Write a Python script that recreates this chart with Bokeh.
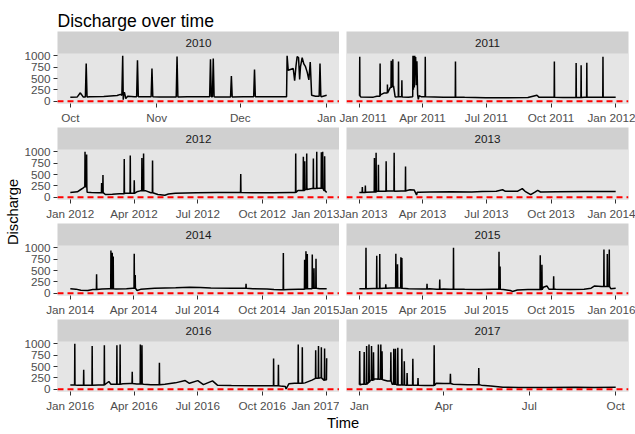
import numpy as np
import pandas as pd
from bokeh.plotting import figure
from bokeh.layouts import column, row
from bokeh.models import (BoxAnnotation, ColumnDataSource, DatetimeTickFormatter,
                          FixedTicker, Label, Range1d, Span)
from bokeh.embed import file_html
from bokeh.resources import INLINE

# Discharge readings, day of year (0 = 1 Jan) and value.
# base_* is the running level, peak_* are the short flood spikes on top of it.
base_day_2010 = [273, 275.5, 276.6, 277.6, 280, 285, 289.8, 291.0, 291.5, 292.0, 292.4, 292.9, 293.6,
                 296, 305, 315, 325, 335, 345, 350.6, 350.8, 351.2, 353.0, 353.5, 354.0, 354.4,
                 354.9, 355.3, 355.6, 356.2, 356.8, 357.4, 358.0, 358.6, 359.1, 359.6, 361.0, 363.1, 365]
base_q_2010 = [90, 95, 185, 95, 100, 105, 125, 150, 130, 35, 200, 60, 110,
               100, 95, 100, 95, 100, 100, 100, 1000, 680, 720, 450, 780, 980,
               960, 480, 760, 960, 820, 760, 640, 470, 860, 130, 110, 100, 130]
peak_day_2010 = [278.7, 291.8, 297.1, 302.3, 311.3, 323.3, 324.3, 330.8, 339.1, 362.6]
peak_q_2010 = [830, 1000, 900, 720, 985, 925, 940, 555, 700, 830]

base_day_2011 = [0, 2, 20, 25, 30, 35, 40, 44, 47, 48.7, 51, 55, 62, 70, 76, 76.4, 77.0, 77.7, 78.3,
                 78.9, 79.5, 80.2, 81.0, 82.0, 83.0, 84.0, 85.0, 88, 120, 150, 180, 210, 240,
                 252.9, 256, 290, 320, 350, 365]
base_q_2011 = [120, 95, 90, 110, 140, 180, 230, 300, 330, 340, 95, 100, 95, 90, 100, 1000, 250, 1000, 300,
               1000, 600, 970, 350, 880, 150, 40, 120, 100, 90, 85, 75, 75, 80,
               130, 85, 80, 85, 90, 90]
peak_day_2011 = [0.6, 29.6, 40.0, 45.4, 47.7, 55.8, 60.6, 93.9, 136.9, 277.7, 308.7, 315.8, 323.9, 346.9]
peak_q_2011 = [980, 830, 370, 890, 925, 875, 460, 980, 875, 875, 840, 790, 845, 980]

base_day_2012 = [0, 10, 15, 18, 20.5, 24, 30, 40, 50, 60, 70, 78, 90, 95, 100, 108, 115, 125, 135, 140,
                 150, 180, 210, 240, 260, 290, 315, 325, 335, 345, 355, 362, 366]
base_q_2012 = [105, 120, 170, 200, 230, 110, 105, 100, 60, 65, 75, 90, 85, 120, 140, 140, 100, 60, 45, 70,
               90, 100, 105, 105, 100, 100, 105, 150, 170, 190, 200, 150, 105]
peak_day_2012 = [21.0, 23.3, 44.7, 46.6, 77.0, 85.6, 91.3, 102.2, 104.6, 117.4, 243.3, 321.8, 332.7,
                 334.6, 337.5, 347.0, 351.8, 358.4, 360.3, 363.1]
peak_q_2012 = [1000, 940, 315, 490, 840, 920, 375, 865, 960, 810, 510, 960, 890,
               790, 960, 850, 1000, 990, 1000, 900]

base_day_2013 = [0, 10, 20, 25, 30, 40, 50, 60, 66, 68, 72, 78, 81.5, 82.5, 85, 100, 130, 160, 175, 195,
                 204, 208, 225, 232, 236, 244, 250, 254, 258, 280, 320, 365]
base_q_2013 = [105, 110, 115, 130, 130, 135, 130, 135, 140, 150, 165, 160, 50, 110, 110, 115, 120, 115, 125, 130,
               165, 130, 130, 190, 130, 55, 110, 150, 115, 120, 125, 125]
peak_day_2013 = [4.3, 8.6, 21.5, 23.9, 27.2, 38.2, 49.6, 65.8]
peak_q_2013 = [225, 255, 865, 980, 715, 790, 980, 675]

base_day_2014 = [0, 8, 15, 25, 32, 45, 55, 65, 80, 89, 95, 100, 120, 150, 170, 185, 200, 230, 260, 280,
                 290, 300, 310, 325, 335, 345, 355, 365]
base_q_2014 = [100, 90, 65, 60, 80, 95, 100, 95, 100, 110, 60, 85, 110, 120, 130, 125, 115, 110, 100, 95,
               80, 75, 80, 90, 100, 110, 100, 100]
peak_day_2014 = [37.4, 57.8, 59.7, 61.1, 91.0, 92.4, 250.2, 303.3, 333.6, 335.5, 337.4, 344.5, 346.9, 349.8]
peak_q_2014 = [420, 940, 890, 810, 870, 400, 210, 885, 735, 925, 865, 850, 550, 760]

base_day_2015 = [0, 20, 35, 45, 60, 70, 90, 100, 110, 120, 130, 150, 170, 190, 205, 215, 218, 225, 240, 250,
                 262, 267, 270, 280, 300, 320, 330, 335, 345, 358, 365]
base_q_2015 = [100, 105, 110, 115, 110, 100, 95, 100, 90, 95, 90, 85, 80, 85, 80, 60, 40, 70, 80, 80,
               130, 160, 90, 85, 80, 85, 110, 160, 150, 100, 110]
peak_day_2015 = [9.5, 24.8, 29.1, 37.7, 52.0, 54.4, 59.2, 60.6, 96.4, 114.5, 134.1, 198.9, 200.4,
                 257.6, 260.0, 276.7, 348.3, 353.1, 355.9]
peak_q_2015 = [1000, 825, 865, 195, 870, 640, 790, 775, 210, 300, 1000, 910, 590,
               835, 625, 375, 960, 865, 960]

base_day_2016 = [0, 10, 25, 40, 50, 55, 58, 75, 85, 95, 105, 115, 135, 150, 164, 170, 182, 190, 203, 210,
                 230, 260, 290, 300, 307, 308, 312, 320, 335, 345, 350, 357, 362, 365.7, 366]
base_q_2016 = [95, 85, 90, 95, 110, 170, 110, 120, 125, 115, 110, 100, 110, 140, 190, 130, 190, 100, 185, 90,
               80, 75, 75, 70, 60, 5, 120, 130, 140, 200, 240, 250, 200, 210, 680]
peak_day_2016 = [6.4, 19.1, 31.2, 48.6, 66.5, 71.1, 88.4, 100.0, 102.3, 127.2, 290.2, 297.1, 325.4,
                 331.2, 350.3, 354.3, 358.4, 363.0]
peak_q_2016 = [1000, 430, 950, 970, 970, 985, 385, 985, 965, 580, 675, 540, 985,
               925, 860, 950, 925, 895]

base_day_2017 = [0, 3, 8, 12, 16, 20, 25, 30, 35, 40, 50, 60, 70, 78, 82, 90, 100, 115, 130, 140,
                 153, 170, 200, 230, 250, 273]
base_q_2017 = [100, 110, 150, 200, 230, 220, 210, 180, 110, 95, 90, 85, 80, 80, 130, 125, 110, 100, 90, 70,
               45, 40, 40, 45, 40, 45]
peak_day_2017 = [0.4, 5.2, 7.8, 10.3, 13.0, 15.1, 20.3, 22.9, 24.2, 33.6, 36.7, 38.5, 41.0, 45.3, 47.9,
                 50.9, 57.0, 62.5, 79.7, 97.0, 127.2]
peak_q_2017 = [840, 820, 950, 985, 950, 815, 985, 985, 835, 815, 890, 890, 910, 890, 615,
               355, 670, 245, 965, 340, 465]

# x tick positions and label formats per facet
ticks = {
    2010: ["2010-10-01", "2010-11-01", "2010-12-01", "2011-01-01"],
    2011: ["2011-01-01", "2011-04-01", "2011-07-01", "2011-10-01", "2012-01-01"],
    2012: ["2012-01-01", "2012-04-01", "2012-07-01", "2012-10-01", "2013-01-01"],
    2013: ["2013-01-01", "2013-04-01", "2013-07-01", "2013-10-01", "2014-01-01"],
    2014: ["2014-01-01", "2014-04-01", "2014-07-01", "2014-10-01", "2015-01-01"],
    2015: ["2015-01-01", "2015-04-01", "2015-07-01", "2015-10-01", "2016-01-01"],
    2016: ["2016-01-01", "2016-04-01", "2016-07-01", "2016-10-01", "2017-01-01"],
    2017: ["2017-01-01", "2017-04-01", "2017-07-01", "2017-10-01"],
}
tick_fmt = {2010: "%b", 2017: "%b"}
y_ticks = [0, 250, 500, 750, 1000]

data = {
    2010: (base_day_2010, base_q_2010, peak_day_2010, peak_q_2010),
    2011: (base_day_2011, base_q_2011, peak_day_2011, peak_q_2011),
    2012: (base_day_2012, base_q_2012, peak_day_2012, peak_q_2012),
    2013: (base_day_2013, base_q_2013, peak_day_2013, peak_q_2013),
    2014: (base_day_2014, base_q_2014, peak_day_2014, peak_q_2014),
    2015: (base_day_2015, base_q_2015, peak_day_2015, peak_q_2015),
    2016: (base_day_2016, base_q_2016, peak_day_2016, peak_q_2016),
    2017: (base_day_2017, base_q_2017, peak_day_2017, peak_q_2017),
}

FONT = "Liberation Sans"
PANEL_W, PANEL_H, STRIP_H = 282, 50, 22
AXIS_GAP, LAST_AXIS = 24, 20
YLAB_W, LEFT_AXIS_W, COL_GAP, RIGHT_M = 21, 36, 7, 7
TITLE_H, XLAB_H = 31, 23
TOTAL_W = YLAB_W + LEFT_AXIS_W + PANEL_W + COL_GAP + PANEL_W + RIGHT_M
PANEL_BG, STRIP_BG = "#E5E5E5", "#D0D0D0"
SPIKE_HALF = 0.3  # days


def to_ms(dates):
    return pd.DatetimeIndex(dates).values.astype("datetime64[ms]").astype("float64")


def build_series(year, bd, bq, pk_d, pk_q):
    days, qs = list(bd), list(bq)
    for d, q in zip(pk_d, pk_q):
        # spike rises from, and falls back to, the last level read before it
        i = max(int(np.searchsorted(bd, d)) - 1, 0)
        days += [d - SPIKE_HALF, d, d + SPIKE_HALF]
        qs += [bq[i], q, bq[i]]
    order = np.argsort(days, kind="stable")
    t = pd.Timestamp(f"{year}-01-01") + pd.to_timedelta(np.asarray(days)[order], unit="D")
    return to_ms(t), np.asarray(qs, dtype=float)[order]


series = {y: build_series(y, *v) for y, v in data.items()}

all_q = np.concatenate([q for _, q in series.values()])
q_lo, q_hi = min(0.0, all_q.min()), all_q.max()
y_lo = q_lo - 0.05 * (q_hi - q_lo)
y_hi = q_hi + 0.05 * (q_hi - q_lo)
y_top = y_hi + (y_hi - y_lo) * STRIP_H / PANEL_H


def style_axis(ax):
    ax.axis_line_color = None
    ax.major_tick_line_color = "#333333"
    ax.major_tick_line_width = 1
    ax.major_tick_in = 0
    ax.major_tick_out = 4
    ax.minor_tick_line_color = None
    ax.major_label_standoff = 3
    ax.major_label_text_font = FONT
    ax.major_label_text_font_size = "11.7px"
    ax.major_label_text_color = "#4D4D4D"


def facet(year, left, last):
    x, q = series[year]
    pad = 0.05 * (x.max() - x.min())
    xr = Range1d(x.min() - pad, x.max() + pad)
    p = figure(frame_width=PANEL_W, frame_height=PANEL_H + STRIP_H,
               min_border_left=LEFT_AXIS_W if left else COL_GAP,
               min_border_right=0 if left else RIGHT_M,
               min_border_top=0, min_border_bottom=LAST_AXIS if last else AXIS_GAP,
               x_range=xr, y_range=Range1d(y_lo, y_top),
               x_axis_type="datetime", y_axis_type="linear" if left else None,
               toolbar_location=None, output_backend="svg",
               background_fill_color=STRIP_BG, border_fill_color="white",
               outline_line_color=None)
    p.grid.visible = False

    # panel background below the strip
    p.add_layout(BoxAnnotation(top=y_hi, fill_color=PANEL_BG, fill_alpha=1,
                               line_color=None, level="underlay"))

    src = ColumnDataSource(data=dict(t=x, q=q))
    p.line("t", "q", source=src, line_color="black", line_width=1.5)
    p.add_layout(Span(location=0, dimension="width", line_color="red",
                      line_width=2, line_dash="6 4"))

    p.add_layout(Label(x=(xr.start + xr.end) / 2, y=(y_hi + y_top) / 2, text=str(year),
                       text_align="center", text_baseline="middle", text_font=FONT,
                       text_font_size="11.7px", text_color="#1A1A1A"))

    fmt = tick_fmt.get(year, "%b %Y")
    p.xaxis.ticker = FixedTicker(ticks=list(to_ms(ticks[year])))
    p.xaxis.formatter = DatetimeTickFormatter(days=fmt, months=fmt, years=fmt)
    style_axis(p.xaxis[0])
    if left:
        p.yaxis.ticker = FixedTicker(ticks=y_ticks)
        style_axis(p.yaxis[0])
    return p


def text_box(w, h, **label):
    f = figure(width=w, height=h, x_range=Range1d(0, w), y_range=Range1d(0, h),
               x_axis_type=None, y_axis_type=None, min_border=0,
               toolbar_location=None, output_backend="svg", outline_line_color=None)
    f.add_layout(Label(text_font=FONT, text_color="black", **label))
    return f


left_years, right_years = [2010, 2012, 2014, 2016], [2011, 2013, 2015, 2017]
left_col = column(*[facet(y, True, i == 3) for i, y in enumerate(left_years)])
right_col = column(*[facet(y, False, i == 3) for i, y in enumerate(right_years)])

grid_h = 3 * (STRIP_H + PANEL_H + AXIS_GAP) + STRIP_H + PANEL_H + LAST_AXIS
panel_mid = YLAB_W + LEFT_AXIS_W + (2 * PANEL_W + COL_GAP) / 2

title = text_box(TOTAL_W, TITLE_H, x=YLAB_W + LEFT_AXIS_W, y=11, text="Discharge over time",
                 text_align="left", text_baseline="alphabetic", text_font_size="17.6px")
ylab = text_box(YLAB_W, grid_h, x=12, y=grid_h - 180.5, text="Discharge", angle=np.pi / 2,
                text_align="center", text_baseline="middle", text_font_size="14.7px")
xlab = text_box(TOTAL_W, XLAB_H, x=panel_mid, y=XLAB_H - 8, text="Time",
                text_align="center", text_baseline="middle", text_font_size="14.7px")

layout = column(title, row(ylab, left_col, right_col), xlab)

open("out.html", "w").write(file_html(layout, INLINE))
